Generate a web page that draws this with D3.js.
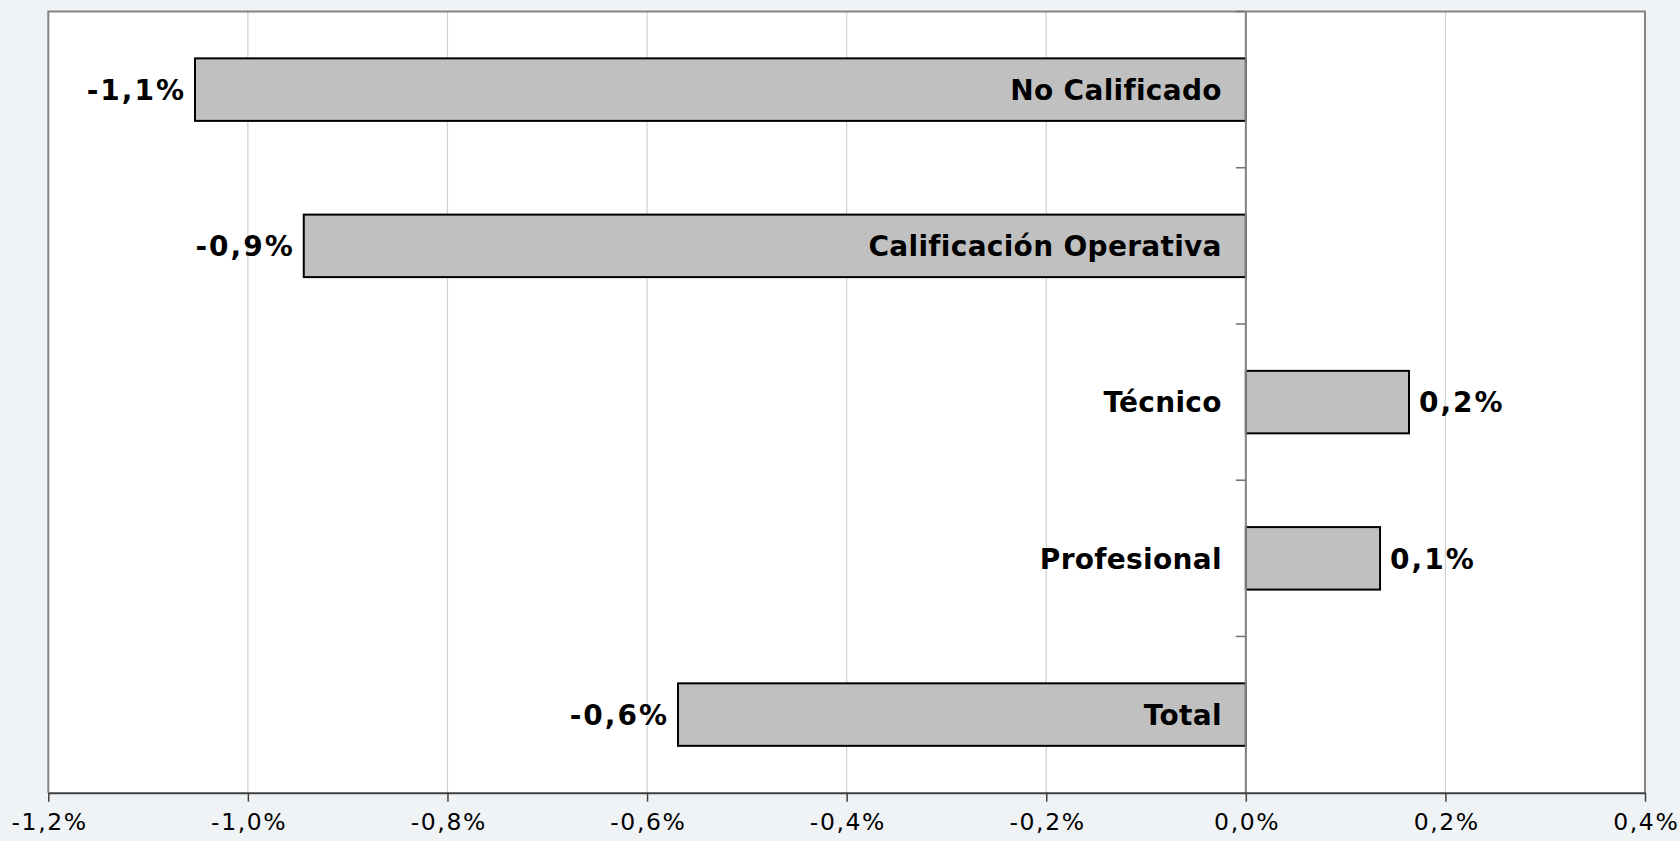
<!DOCTYPE html>
<html>
<head>
<meta charset="utf-8">
<script src="https://cdn.jsdelivr.net/npm/d3@7"></script>
<style>
  html, body { margin: 0; padding: 0; background: #f0f3f6; }
  svg { display: block; }
</style>
</head>
<body>
<svg id="chart" width="1680" height="841"></svg>
<script>
// ---- data ----
const categories = ["No Calificado", "Calificación Operativa", "Técnico", "Profesional", "Total"];
const values = [-1.053, -0.944, 0.1635, 0.1345, -0.569];
const valueLabels = ["-1,1%", "-0,9%", "0,2%", "0,1%", "-0,6%"];
const xTicks = [-1.2, -1.0, -0.8, -0.6, -0.4, -0.2, 0.0, 0.2, 0.4];
const xTickLabels = ["-1,2%", "-1,0%", "-0,8%", "-0,6%", "-0,4%", "-0,2%", "0,0%", "0,2%", "0,4%"];

// ---- layout ----
const L = 48.3, R = 1645, T = 11.5, B = 792.7;
const svg = d3.select("#chart");

const x = d3.scaleLinear().domain([-1.2, 0.4]).range([L, R]);
const y = d3.scaleBand().domain(categories).range([T, B]).paddingInner(0.6).paddingOuter(0.3);

// plot background
svg.append("rect").attr("x", L).attr("y", T).attr("width", R - L).attr("height", B - T)
  .attr("fill", "#ffffff");

// gridlines
svg.append("g").selectAll("line").data(xTicks.filter(d => d !== -1.2 && d !== 0.4 && d !== 0))
  .join("line")
  .attr("x1", d => x(d)).attr("x2", d => x(d))
  .attr("y1", T).attr("y2", B)
  .attr("stroke", "#d0d0d0").attr("stroke-width", 1.2);

// plot border (left, top, right)
svg.append("path")
  .attr("d", `M${L},${B} L${L},${T} L${R},${T} L${R},${B}`)
  .attr("fill", "none").attr("stroke", "#858585").attr("stroke-width", 2);

// bars
svg.append("g").selectAll("rect").data(values).join("rect")
  .attr("x", d => x(Math.min(0, d)))
  .attr("y", (d, i) => y(categories[i]))
  .attr("width", d => Math.abs(x(d) - x(0)))
  .attr("height", y.bandwidth())
  .attr("fill", "#c0c0c0")
  .attr("stroke", "#000000").attr("stroke-width", 2);

// zero line (vertical category axis)
svg.append("line")
  .attr("x1", x(0)).attr("x2", x(0)).attr("y1", T).attr("y2", B)
  .attr("stroke", "#808080").attr("stroke-width", 2);

// category axis ticks at band boundaries
const boundaries = d3.range(categories.length).map(i => T + i * (B - T) / categories.length);
svg.append("g").selectAll("line").data(boundaries).join("line")
  .attr("x1", x(0) - 10).attr("x2", x(0))
  .attr("y1", d => d).attr("y2", d => d)
  .attr("stroke", "#707070").attr("stroke-width", 1.5);

// x axis
const font = "'DejaVu Sans', Verdana, sans-serif";
const xAxis = d3.axisBottom(x).tickValues(xTicks)
  .tickFormat((d, i) => xTickLabels[i]).tickSize(9).tickSizeOuter(0).tickPadding(12);
const gx = svg.append("g").attr("transform", `translate(0,${B})`).call(xAxis);
gx.select(".domain").attr("stroke", "#404040").attr("stroke-width", 2);
gx.selectAll(".tick line").attr("stroke", "#404040").attr("stroke-width", 1.5);
gx.selectAll(".tick text")
  .attr("font-family", font)
  .attr("font-size", 23.5).attr("fill", "#000")
  .attr("letter-spacing", 1.6).attr("dx", 0.8);

// category labels
const fs = 28;
const capOff = fs * 0.729 / 2;
svg.append("g").selectAll("text").data(categories).join("text")
  .attr("x", x(0) - 24)
  .attr("y", d => y(d) + y.bandwidth() / 2 + capOff)
  .attr("text-anchor", "end")
  .attr("font-family", font).attr("font-weight", "bold").attr("font-size", fs)
  .attr("fill", "#000")
  .attr("letter-spacing", 0.3)
  .text(d => d);

// value labels
const ls = 2;
svg.append("g").selectAll("text").data(values).join("text")
  .attr("x", d => d < 0 ? x(d) - 11 + ls : x(d) + 10)
  .attr("y", (d, i) => y(categories[i]) + y.bandwidth() / 2 + capOff)
  .attr("text-anchor", d => d < 0 ? "end" : "start")
  .attr("font-family", font).attr("font-weight", "bold").attr("font-size", fs)
  .attr("fill", "#000")
  .attr("letter-spacing", ls)
  .text((d, i) => valueLabels[i]);
</script>
</body>
</html>
